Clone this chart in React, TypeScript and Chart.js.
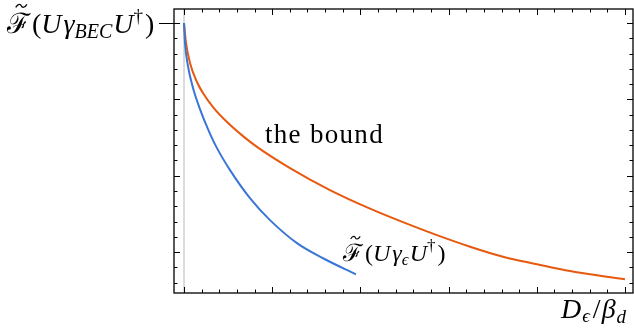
import { useEffect, useRef } from "react";
import { Chart, registerables } from "chart.js";
Chart.register(...registerables);

// ---- data ----
const boundX = [0, 0.023, 0.068, 0.147, 0.215, 0.329, 0.488, 0.669, 0.839, 1.202, 1.655, 2.109, 2.483, 2.868, 3.243, 3.617, 4.002, 4.376, 5.0];
const boundY = [3.0, 2.738, 2.476, 2.227, 2.083, 1.899, 1.703, 1.519, 1.368, 1.1, 0.812, 0.569, 0.392, 0.222, 0.071, -0.06, -0.158, -0.248, -0.355];

const fidX = [0, 0.011, 0.045, 0.102, 0.181, 0.272, 0.371, 0.522, 0.748, 0.975, 1.281, 1.576, 1.95];
const fidY = [3.0, 2.738, 2.437, 2.148, 1.873, 1.611, 1.368, 1.074, 0.707, 0.419, 0.118, -0.08, -0.29];

const xMinorTicks = Array.from({ length: 26 }, (_, i) => Math.round(i * 0.2 * 10) / 10); // 0..5
const xMajorTicks = [0, 1, 2, 3, 4, 5];
const yMinorTicks = Array.from({ length: 18 }, (_, i) => Math.round((-0.4 + i * 0.2) * 10) / 10); // -0.4..3.0
const yMajorTicks = [0, 1, 2, 3];
const yLabeledTick = 3;
const xRange = [-0.1134, 5.091];
const yRange = [-0.535, 3.183];

const ORANGE = "#e6590e";
const BLUE = "#3a76d6";
const SERIF = '"Liberation Serif", "DejaVu Serif", serif';

type Seg = { t: string; size: number; it?: boolean; dy?: number; tilde?: boolean; kern?: number };

function drawRich(ctx: CanvasRenderingContext2D, segs: Seg[], x: number, baseline: number) {
  let cx = x;
  ctx.textAlign = "left";
  ctx.textBaseline = "alphabetic";
  for (const s of segs) {
    ctx.font = `${s.it ? "italic " : ""}${s.size}px ${SERIF}`;
    const w = ctx.measureText(s.t).width;
    ctx.fillText(s.t, cx, baseline + (s.dy || 0));
    if (s.tilde) {
      const tw = s.size * 0.4;
      const tx = cx + w / 2 - tw / 2 + s.size * 0.1;
      const ty = baseline - s.size * 0.97;
      const a = s.size * 0.055;
      ctx.save();
      ctx.lineWidth = Math.max(1, s.size * 0.045);
      ctx.strokeStyle = ctx.fillStyle as string;
      ctx.beginPath();
      ctx.moveTo(tx, ty + a);
      ctx.bezierCurveTo(tx + tw * 0.25, ty - a * 2, tx + tw * 0.45, ty - a, tx + tw * 0.5, ty);
      ctx.bezierCurveTo(tx + tw * 0.55, ty + a, tx + tw * 0.75, ty + a * 2, tx + tw, ty - a);
      ctx.stroke();
      ctx.restore();
    }
    cx += w + (s.kern || 0);
  }
  return cx - x;
}

const yLabelSegs: Seg[] = [
  { t: "ℱ", size: 28, tilde: true, kern: 2 },
  { t: "(", size: 28 },
  { t: "U", size: 28, it: true, kern: 2 },
  { t: "γ", size: 28, it: true },
  { t: "BEC", size: 20, it: true, dy: 5, kern: 1 },
  { t: "U", size: 28, it: true },
  { t: "†", size: 19, dy: -11, kern: 2 },
  { t: ")", size: 28 },
];
const blueLabelSegs: Seg[] = [
  { t: "ℱ", size: 24, tilde: true, kern: 2 },
  { t: "(", size: 24 },
  { t: "U", size: 24, it: true, kern: 2 },
  { t: "γ", size: 24, it: true },
  { t: "ϵ", size: 17, it: true, dy: 4, kern: 1 },
  { t: "U", size: 24, it: true },
  { t: "†", size: 17, dy: -10, kern: 2 },
  { t: ")", size: 24 },
];
const xLabelSegs: Seg[] = [
  { t: "D", size: 28, it: true, kern: 1 },
  { t: "ϵ", size: 19, it: true, dy: 4, kern: 3 },
  { t: "/", size: 28, kern: 1 },
  { t: "β", size: 28, it: true, kern: 1 },
  { t: "d", size: 19, it: true, dy: 5 },
];

const framePlugin = {
  id: "frame",
  afterDraw(chart: any) {
    const { ctx, chartArea } = chart;
    const { left, right, top, bottom } = chartArea;
    const xs = chart.scales.x;
    const ys = chart.scales.y;
    ctx.save();
    ctx.strokeStyle = "#000";
    ctx.fillStyle = "#000";
    ctx.lineWidth = 1;
    for (const v of xMinorTicks) {
      const px = Math.round(xs.getPixelForValue(v)) + 0.5;
      const len = xMajorTicks.includes(v) ? 6 : 3.5;
      ctx.beginPath();
      ctx.moveTo(px, bottom);
      ctx.lineTo(px, bottom - len);
      ctx.moveTo(px, top);
      ctx.lineTo(px, top + len);
      ctx.stroke();
    }
    for (const v of yMinorTicks) {
      const py = Math.round(ys.getPixelForValue(v)) + 0.5;
      const len = yMajorTicks.includes(v) ? 6 : 3.5;
      ctx.beginPath();
      ctx.moveTo(left, py);
      ctx.lineTo(left + len, py);
      ctx.moveTo(right, py);
      ctx.lineTo(right - len, py);
      ctx.stroke();
    }
    const ly = Math.round(ys.getPixelForValue(yLabeledTick)) + 0.5;
    ctx.beginPath();
    ctx.moveTo(left - 15, ly);
    ctx.lineTo(left, ly);
    ctx.stroke();
    ctx.lineWidth = 1.3;
    ctx.strokeRect(left, top, right - left, bottom - top);

    drawRich(ctx, yLabelSegs, 7, 33);
    drawRich(ctx, xLabelSegs, 561, 318);
    drawRich(ctx, blueLabelSegs, 343, 261);
    ctx.font = `27px ${SERIF}`;
    (ctx as any).letterSpacing = "1.3px";
    ctx.textAlign = "left";
    ctx.fillText("the bound", 265, 143);
    ctx.restore();
  },
};

export default function App() {
  const ref = useRef<HTMLCanvasElement>(null);
  useEffect(() => {
    if (!ref.current) return;
    const chart = new Chart(ref.current, {
      type: "line",
      data: {
        datasets: [
          {
            label: "bound",
            data: boundX.map((x, i) => ({ x, y: boundY[i] })),
            borderColor: ORANGE,
            borderWidth: 2,
            pointRadius: 0,
            cubicInterpolationMode: "monotone",
            order: 1,
          },
          {
            label: "fidelity",
            data: fidX.map((x, i) => ({ x, y: fidY[i] })),
            borderColor: BLUE,
            borderWidth: 2,
            pointRadius: 0,
            cubicInterpolationMode: "monotone",
            order: 0,
          },
          {
            label: "zero",
            data: [
              { x: 0, y: yRange[0] },
              { x: 0, y: yRange[1] },
            ],
            borderColor: "#cfcfcf",
            borderWidth: 1.5,
            pointRadius: 0,
            order: 5,
          },
        ],
      },
      options: {
        animation: false,
        responsive: false,
        devicePixelRatio: 1,
        layout: { padding: { left: 174, top: 9, right: 1, bottom: 35 } },
        plugins: { legend: { display: false }, tooltip: { enabled: false } },
        scales: {
          x: { type: "linear", min: xRange[0], max: xRange[1], display: false },
          y: { type: "linear", min: yRange[0], max: yRange[1], display: false },
        },
      } as any,
      plugins: [framePlugin],
    });
    return () => chart.destroy();
  }, []);
  return (
    <div style={{ position: "fixed", left: 0, top: 0, width: 634, height: 328, background: "#fff" }}>
      <canvas ref={ref} width={634} height={328} />
    </div>
  );
}
